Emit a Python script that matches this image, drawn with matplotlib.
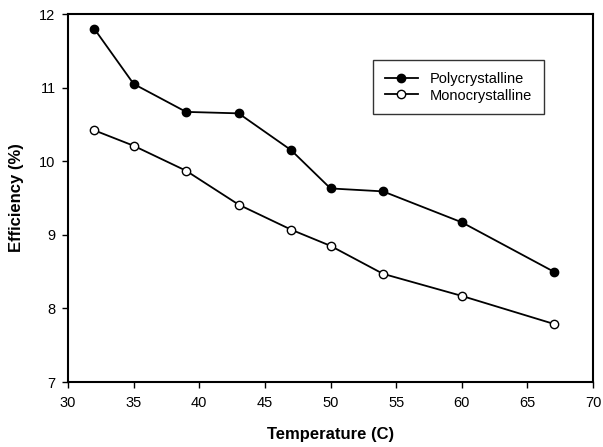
import matplotlib
matplotlib.use("Agg")
import matplotlib.pyplot as plt

plt.rcParams["font.family"] = ["Liberation Sans", "DejaVu Sans"]

temperature = [32, 35, 39, 43, 47, 50, 54, 60, 67]
poly = [11.80, 11.05, 10.67, 10.65, 10.15, 9.63, 9.59, 9.17, 8.50]
mono = [10.42, 10.21, 9.87, 9.41, 9.07, 8.85, 8.47, 8.17, 7.79]

fig = plt.figure(figsize=(6.03, 4.47), dpi=100)
ax = fig.add_axes([68 / 603, 1 - 382 / 447, (593 - 68) / 603, (382 - 14) / 447])

ax.plot(temperature, poly, color="black", lw=1.3, marker="o", ms=6,
        mfc="black", mec="black", label="Polycrystalline")
ax.plot(temperature, mono, color="black", lw=1.3, marker="o", ms=6,
        mfc="white", mec="black", mew=1.0, label="Monocrystalline")

ax.set_xlim(30, 70)
ax.set_ylim(7, 12)
ax.set_xticks(range(30, 71, 5))
ax.set_yticks(range(7, 13))
ax.tick_params(direction="out", length=4, width=1, labelsize=10.5)
ax.tick_params(axis="x", pad=6)
ax.tick_params(axis="y", pad=5)
for s in ax.spines.values():
    s.set_linewidth(1.5)

ax.set_xlabel("Temperature (C)", fontsize=12, fontweight="bold", labelpad=12)
ax.set_ylabel("Efficiency (%)", fontsize=12, fontweight="bold", labelpad=11)

leg = ax.legend(loc="upper left", bbox_to_anchor=((373 - 68) / 525, (382 - 60) / 368),
                borderaxespad=0, frameon=True, fancybox=False, edgecolor="black",
                fontsize=10.5, handlelength=2.3, borderpad=0.8, labelspacing=0.2)
leg.get_frame().set_linewidth(1.0)

fig.savefig("out.png", dpi=100)
